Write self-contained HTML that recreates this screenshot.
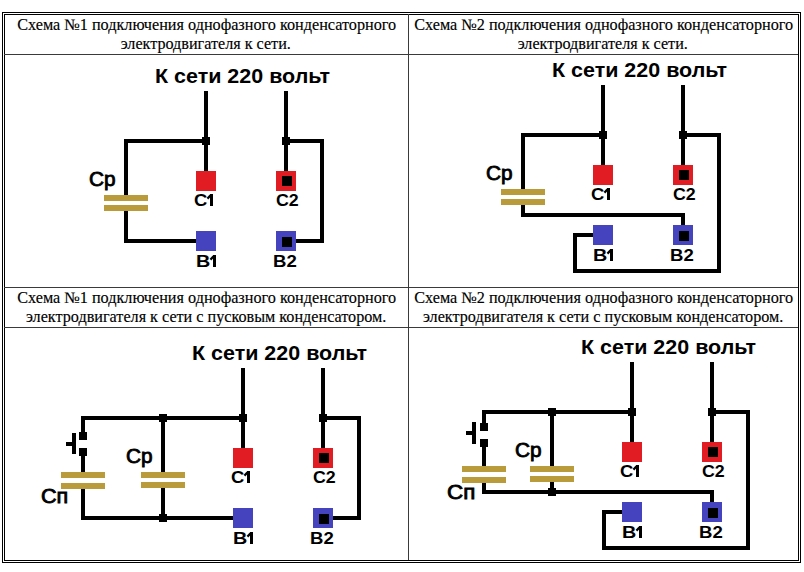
<!DOCTYPE html><html><head><meta charset="utf-8"><style>html,body{margin:0;padding:0;background:#fff;width:804px;height:572px;overflow:hidden}svg{display:block}</style></head><body>
<svg width="804" height="572" viewBox="0 0 804 572">
<rect x="0" y="0" width="804" height="572" fill="#fff"/>
<g shape-rendering="crispEdges">
<rect x="2" y="12" width="799" height="1" fill="#000"/>
<rect x="2" y="562" width="799" height="1" fill="#000"/>
<rect x="2" y="12" width="1" height="551" fill="#000"/>
<rect x="800" y="12" width="1" height="551" fill="#000"/>
<rect x="4" y="14" width="795" height="1" fill="#000"/>
<rect x="4" y="560" width="795" height="1" fill="#000"/>
<rect x="4" y="14" width="1" height="547" fill="#000"/>
<rect x="798" y="14" width="1" height="547" fill="#000"/>
<rect x="408" y="14" width="1" height="546" fill="#3a3a3a"/>
<rect x="4" y="54" width="794" height="1" fill="#3a3a3a"/>
<rect x="4" y="287" width="794" height="1" fill="#3a3a3a"/>
<rect x="4" y="327" width="794" height="1" fill="#3a3a3a"/>
</g>
<g font-family="Liberation Serif, serif" font-size="16" fill="#000" text-anchor="middle" stroke="#000" stroke-width="0.15">
<text x="206.70" y="30" textLength="378.91" lengthAdjust="spacingAndGlyphs">Схема №1 подключения однофазного конденсаторного</text>
<text x="205.75" y="49" textLength="170.12" lengthAdjust="spacingAndGlyphs">электродвигателя к сети.</text>
<text x="603.70" y="30" textLength="378.91" lengthAdjust="spacingAndGlyphs">Схема №2 подключения однофазного конденсаторного</text>
<text x="602.75" y="49" textLength="170.12" lengthAdjust="spacingAndGlyphs">электродвигателя к сети.</text>
<text x="206.70" y="303" textLength="378.91" lengthAdjust="spacingAndGlyphs">Схема №1 подключения однофазного конденсаторного</text>
<text x="206.15" y="322" textLength="360.40" lengthAdjust="spacingAndGlyphs">электродвигателя к сети с пусковым конденсатором.</text>
<text x="603.70" y="303" textLength="378.91" lengthAdjust="spacingAndGlyphs">Схема №2 подключения однофазного конденсаторного</text>
<text x="603.15" y="322" textLength="360.40" lengthAdjust="spacingAndGlyphs">электродвигателя к сети с пусковым конденсатором.</text>
</g>
<g shape-rendering="crispEdges">
<rect x="204" y="91" width="4" height="80" fill="#000"/>
<rect x="284" y="91" width="4" height="80" fill="#000"/>
<rect x="284" y="139" width="40" height="4" fill="#000"/>
<rect x="202" y="137" width="8" height="8" fill="#000"/>
<rect x="282" y="137" width="8" height="8" fill="#000"/>
<rect x="196" y="171" width="20" height="20" fill="#e21c23"/>
<rect x="276" y="171" width="20" height="20" fill="#e21c23"/>
<rect x="282" y="176" width="10" height="10" fill="#000"/>
<rect x="196" y="231" width="20" height="20" fill="#4643bf"/>
<rect x="276" y="231" width="20" height="20" fill="#4643bf"/>
<rect x="282" y="237" width="10" height="10" fill="#000"/>
<rect x="124" y="139" width="84" height="4" fill="#000"/>
<rect x="124" y="139" width="4" height="56" fill="#000"/>
<rect x="124" y="211" width="4" height="32" fill="#000"/>
<rect x="124" y="239" width="72" height="4" fill="#000"/>
<rect x="320" y="139" width="4" height="104" fill="#000"/>
<rect x="296" y="239" width="28" height="4" fill="#000"/>
<rect x="104" y="195" width="44" height="6" fill="#b99b3b"/>
<rect x="104" y="205" width="44" height="6" fill="#b99b3b"/>
<rect x="601" y="85" width="4" height="80" fill="#000"/>
<rect x="681" y="85" width="4" height="80" fill="#000"/>
<rect x="681" y="133" width="40" height="4" fill="#000"/>
<rect x="599" y="131" width="8" height="8" fill="#000"/>
<rect x="679" y="131" width="8" height="8" fill="#000"/>
<rect x="593" y="165" width="20" height="20" fill="#e21c23"/>
<rect x="673" y="165" width="20" height="20" fill="#e21c23"/>
<rect x="679" y="170" width="10" height="10" fill="#000"/>
<rect x="593" y="225" width="20" height="20" fill="#4643bf"/>
<rect x="673" y="225" width="20" height="20" fill="#4643bf"/>
<rect x="679" y="231" width="10" height="10" fill="#000"/>
<rect x="521" y="133" width="84" height="4" fill="#000"/>
<rect x="521" y="133" width="4" height="56" fill="#000"/>
<rect x="521" y="205" width="4" height="12" fill="#000"/>
<rect x="521" y="213" width="164" height="4" fill="#000"/>
<rect x="681" y="213" width="4" height="12" fill="#000"/>
<rect x="717" y="133" width="4" height="140" fill="#000"/>
<rect x="573" y="269" width="148" height="4" fill="#000"/>
<rect x="573" y="233" width="4" height="40" fill="#000"/>
<rect x="573" y="233" width="20" height="4" fill="#000"/>
<rect x="501" y="189" width="44" height="6" fill="#b99b3b"/>
<rect x="501" y="199" width="44" height="6" fill="#b99b3b"/>
<rect x="241" y="368" width="4" height="80" fill="#000"/>
<rect x="321" y="368" width="4" height="80" fill="#000"/>
<rect x="321" y="416" width="40" height="4" fill="#000"/>
<rect x="239" y="414" width="8" height="8" fill="#000"/>
<rect x="319" y="414" width="8" height="8" fill="#000"/>
<rect x="233" y="448" width="20" height="20" fill="#e21c23"/>
<rect x="313" y="448" width="20" height="20" fill="#e21c23"/>
<rect x="319" y="453" width="10" height="10" fill="#000"/>
<rect x="233" y="508" width="20" height="20" fill="#4643bf"/>
<rect x="313" y="508" width="20" height="20" fill="#4643bf"/>
<rect x="319" y="514" width="10" height="10" fill="#000"/>
<rect x="81" y="416" width="164" height="4" fill="#000"/>
<rect x="357" y="416" width="4" height="104" fill="#000"/>
<rect x="333" y="516" width="28" height="4" fill="#000"/>
<rect x="81" y="516" width="152" height="4" fill="#000"/>
<rect x="159" y="414" width="8" height="8" fill="#000"/>
<rect x="159" y="514" width="8" height="8" fill="#000"/>
<rect x="161" y="416" width="4" height="56" fill="#000"/>
<rect x="161" y="488" width="4" height="32" fill="#000"/>
<rect x="141" y="472" width="44" height="6" fill="#b99b3b"/>
<rect x="141" y="482" width="44" height="6" fill="#b99b3b"/>
<rect x="81" y="416" width="4" height="16" fill="#000"/>
<rect x="79" y="432" width="8" height="8" fill="#000"/>
<rect x="79" y="448" width="8" height="8" fill="#000"/>
<rect x="81" y="456" width="4" height="16" fill="#000"/>
<rect x="61" y="472" width="44" height="6" fill="#b99b3b"/>
<rect x="61" y="483" width="44" height="6" fill="#b99b3b"/>
<rect x="81" y="489" width="4" height="31" fill="#000"/>
<rect x="72" y="433" width="4" height="21" fill="#000"/>
<rect x="66" y="442" width="6" height="4" fill="#000"/>
<rect x="630" y="362" width="4" height="80" fill="#000"/>
<rect x="710" y="362" width="4" height="80" fill="#000"/>
<rect x="710" y="410" width="40" height="4" fill="#000"/>
<rect x="628" y="408" width="8" height="8" fill="#000"/>
<rect x="708" y="408" width="8" height="8" fill="#000"/>
<rect x="622" y="442" width="20" height="20" fill="#e21c23"/>
<rect x="702" y="442" width="20" height="20" fill="#e21c23"/>
<rect x="708" y="447" width="10" height="10" fill="#000"/>
<rect x="622" y="502" width="20" height="20" fill="#4643bf"/>
<rect x="702" y="502" width="20" height="20" fill="#4643bf"/>
<rect x="708" y="508" width="10" height="10" fill="#000"/>
<rect x="482" y="410" width="152" height="4" fill="#000"/>
<rect x="746" y="410" width="4" height="140" fill="#000"/>
<rect x="602" y="546" width="148" height="4" fill="#000"/>
<rect x="602" y="510" width="4" height="40" fill="#000"/>
<rect x="602" y="510" width="20" height="4" fill="#000"/>
<rect x="482" y="490" width="232" height="4" fill="#000"/>
<rect x="710" y="490" width="4" height="12" fill="#000"/>
<rect x="548" y="408" width="8" height="8" fill="#000"/>
<rect x="548" y="488" width="8" height="8" fill="#000"/>
<rect x="550" y="410" width="4" height="56" fill="#000"/>
<rect x="550" y="482" width="4" height="12" fill="#000"/>
<rect x="530" y="466" width="44" height="6" fill="#b99b3b"/>
<rect x="530" y="476" width="44" height="6" fill="#b99b3b"/>
<rect x="482" y="410" width="4" height="13" fill="#000"/>
<rect x="480" y="423" width="8" height="8" fill="#000"/>
<rect x="480" y="439" width="8" height="8" fill="#000"/>
<rect x="482" y="447" width="4" height="19" fill="#000"/>
<rect x="462" y="466" width="44" height="6" fill="#b99b3b"/>
<rect x="462" y="477" width="44" height="6" fill="#b99b3b"/>
<rect x="482" y="483" width="4" height="11" fill="#000"/>
<rect x="472" y="422" width="4" height="22" fill="#000"/>
<rect x="466" y="431" width="6" height="4" fill="#000"/>
</g>
<g font-family="Liberation Sans, sans-serif" fill="#000">
<text x="155.00" y="83" font-size="20" font-weight="bold" textLength="175.11" lengthAdjust="spacingAndGlyphs">К сети 220 вольт</text>
<text x="194.00" y="206" font-size="17" font-weight="bold" textLength="13.28" lengthAdjust="spacingAndGlyphs">С</text>
<text x="276.00" y="206" font-size="17" font-weight="bold" textLength="22.73" lengthAdjust="spacingAndGlyphs">С2</text>
<text x="196.00" y="267" font-size="17" font-weight="bold" textLength="14.28" lengthAdjust="spacingAndGlyphs">В</text>
<text x="273.00" y="267" font-size="17" font-weight="bold" textLength="23.73" lengthAdjust="spacingAndGlyphs">В2</text>
<text x="89.00" y="186.3" font-size="19.5" font-weight="normal" stroke="#000" stroke-width="0.8" textLength="26.58" lengthAdjust="spacingAndGlyphs">Ср</text>
<text x="552.00" y="77" font-size="20" font-weight="bold" textLength="175.11" lengthAdjust="spacingAndGlyphs">К сети 220 вольт</text>
<text x="591.00" y="200" font-size="17" font-weight="bold" textLength="13.28" lengthAdjust="spacingAndGlyphs">С</text>
<text x="673.00" y="200" font-size="17" font-weight="bold" textLength="22.73" lengthAdjust="spacingAndGlyphs">С2</text>
<text x="593.00" y="261" font-size="17" font-weight="bold" textLength="14.28" lengthAdjust="spacingAndGlyphs">В</text>
<text x="670.00" y="261" font-size="17" font-weight="bold" textLength="23.73" lengthAdjust="spacingAndGlyphs">В2</text>
<text x="486.00" y="180.3" font-size="19.5" font-weight="normal" stroke="#000" stroke-width="0.8" textLength="26.58" lengthAdjust="spacingAndGlyphs">Ср</text>
<text x="192.00" y="360" font-size="20" font-weight="bold" textLength="175.11" lengthAdjust="spacingAndGlyphs">К сети 220 вольт</text>
<text x="231.00" y="483" font-size="17" font-weight="bold" textLength="13.28" lengthAdjust="spacingAndGlyphs">С</text>
<text x="313.00" y="483" font-size="17" font-weight="bold" textLength="22.73" lengthAdjust="spacingAndGlyphs">С2</text>
<text x="233.00" y="544" font-size="17" font-weight="bold" textLength="14.28" lengthAdjust="spacingAndGlyphs">В</text>
<text x="310.00" y="544" font-size="17" font-weight="bold" textLength="23.73" lengthAdjust="spacingAndGlyphs">В2</text>
<text x="126.00" y="463.3" font-size="19.5" font-weight="normal" stroke="#000" stroke-width="0.8" textLength="26.58" lengthAdjust="spacingAndGlyphs">Ср</text>
<text x="41.00" y="502.8" font-size="19.5" font-weight="normal" stroke="#000" stroke-width="0.8" textLength="27.28" lengthAdjust="spacingAndGlyphs">Сп</text>
<text x="581.00" y="354" font-size="20" font-weight="bold" textLength="175.11" lengthAdjust="spacingAndGlyphs">К сети 220 вольт</text>
<text x="620.00" y="477" font-size="17" font-weight="bold" textLength="13.28" lengthAdjust="spacingAndGlyphs">С</text>
<text x="702.00" y="477" font-size="17" font-weight="bold" textLength="22.73" lengthAdjust="spacingAndGlyphs">С2</text>
<text x="622.00" y="538" font-size="17" font-weight="bold" textLength="14.28" lengthAdjust="spacingAndGlyphs">В</text>
<text x="699.00" y="538" font-size="17" font-weight="bold" textLength="23.73" lengthAdjust="spacingAndGlyphs">В2</text>
<text x="515.00" y="457.3" font-size="19.5" font-weight="normal" stroke="#000" stroke-width="0.8" textLength="26.58" lengthAdjust="spacingAndGlyphs">Ср</text>
<text x="447.00" y="498.8" font-size="19.5" font-weight="normal" stroke="#000" stroke-width="0.8" textLength="28.28" lengthAdjust="spacingAndGlyphs">Сп</text>
</g>
<path d="M210 194h3v12h-3z" fill="#000"/><path d="M207.4 198.6L210.6 195.4" stroke="#000" stroke-width="2.2" fill="none"/>
<path d="M213 255h3v12h-3z" fill="#000"/><path d="M210.4 259.6L213.6 256.4" stroke="#000" stroke-width="2.2" fill="none"/>
<path d="M607 188h3v12h-3z" fill="#000"/><path d="M604.4 192.6L607.6 189.4" stroke="#000" stroke-width="2.2" fill="none"/>
<path d="M610 249h3v12h-3z" fill="#000"/><path d="M607.4 253.6L610.6 250.4" stroke="#000" stroke-width="2.2" fill="none"/>
<path d="M247 471h3v12h-3z" fill="#000"/><path d="M244.4 475.6L247.6 472.4" stroke="#000" stroke-width="2.2" fill="none"/>
<path d="M250 532h3v12h-3z" fill="#000"/><path d="M247.4 536.6L250.6 533.4" stroke="#000" stroke-width="2.2" fill="none"/>
<path d="M636 465h3v12h-3z" fill="#000"/><path d="M633.4 469.6L636.6 466.4" stroke="#000" stroke-width="2.2" fill="none"/>
<path d="M639 526h3v12h-3z" fill="#000"/><path d="M636.4 530.6L639.6 527.4" stroke="#000" stroke-width="2.2" fill="none"/>
</svg></body></html>
